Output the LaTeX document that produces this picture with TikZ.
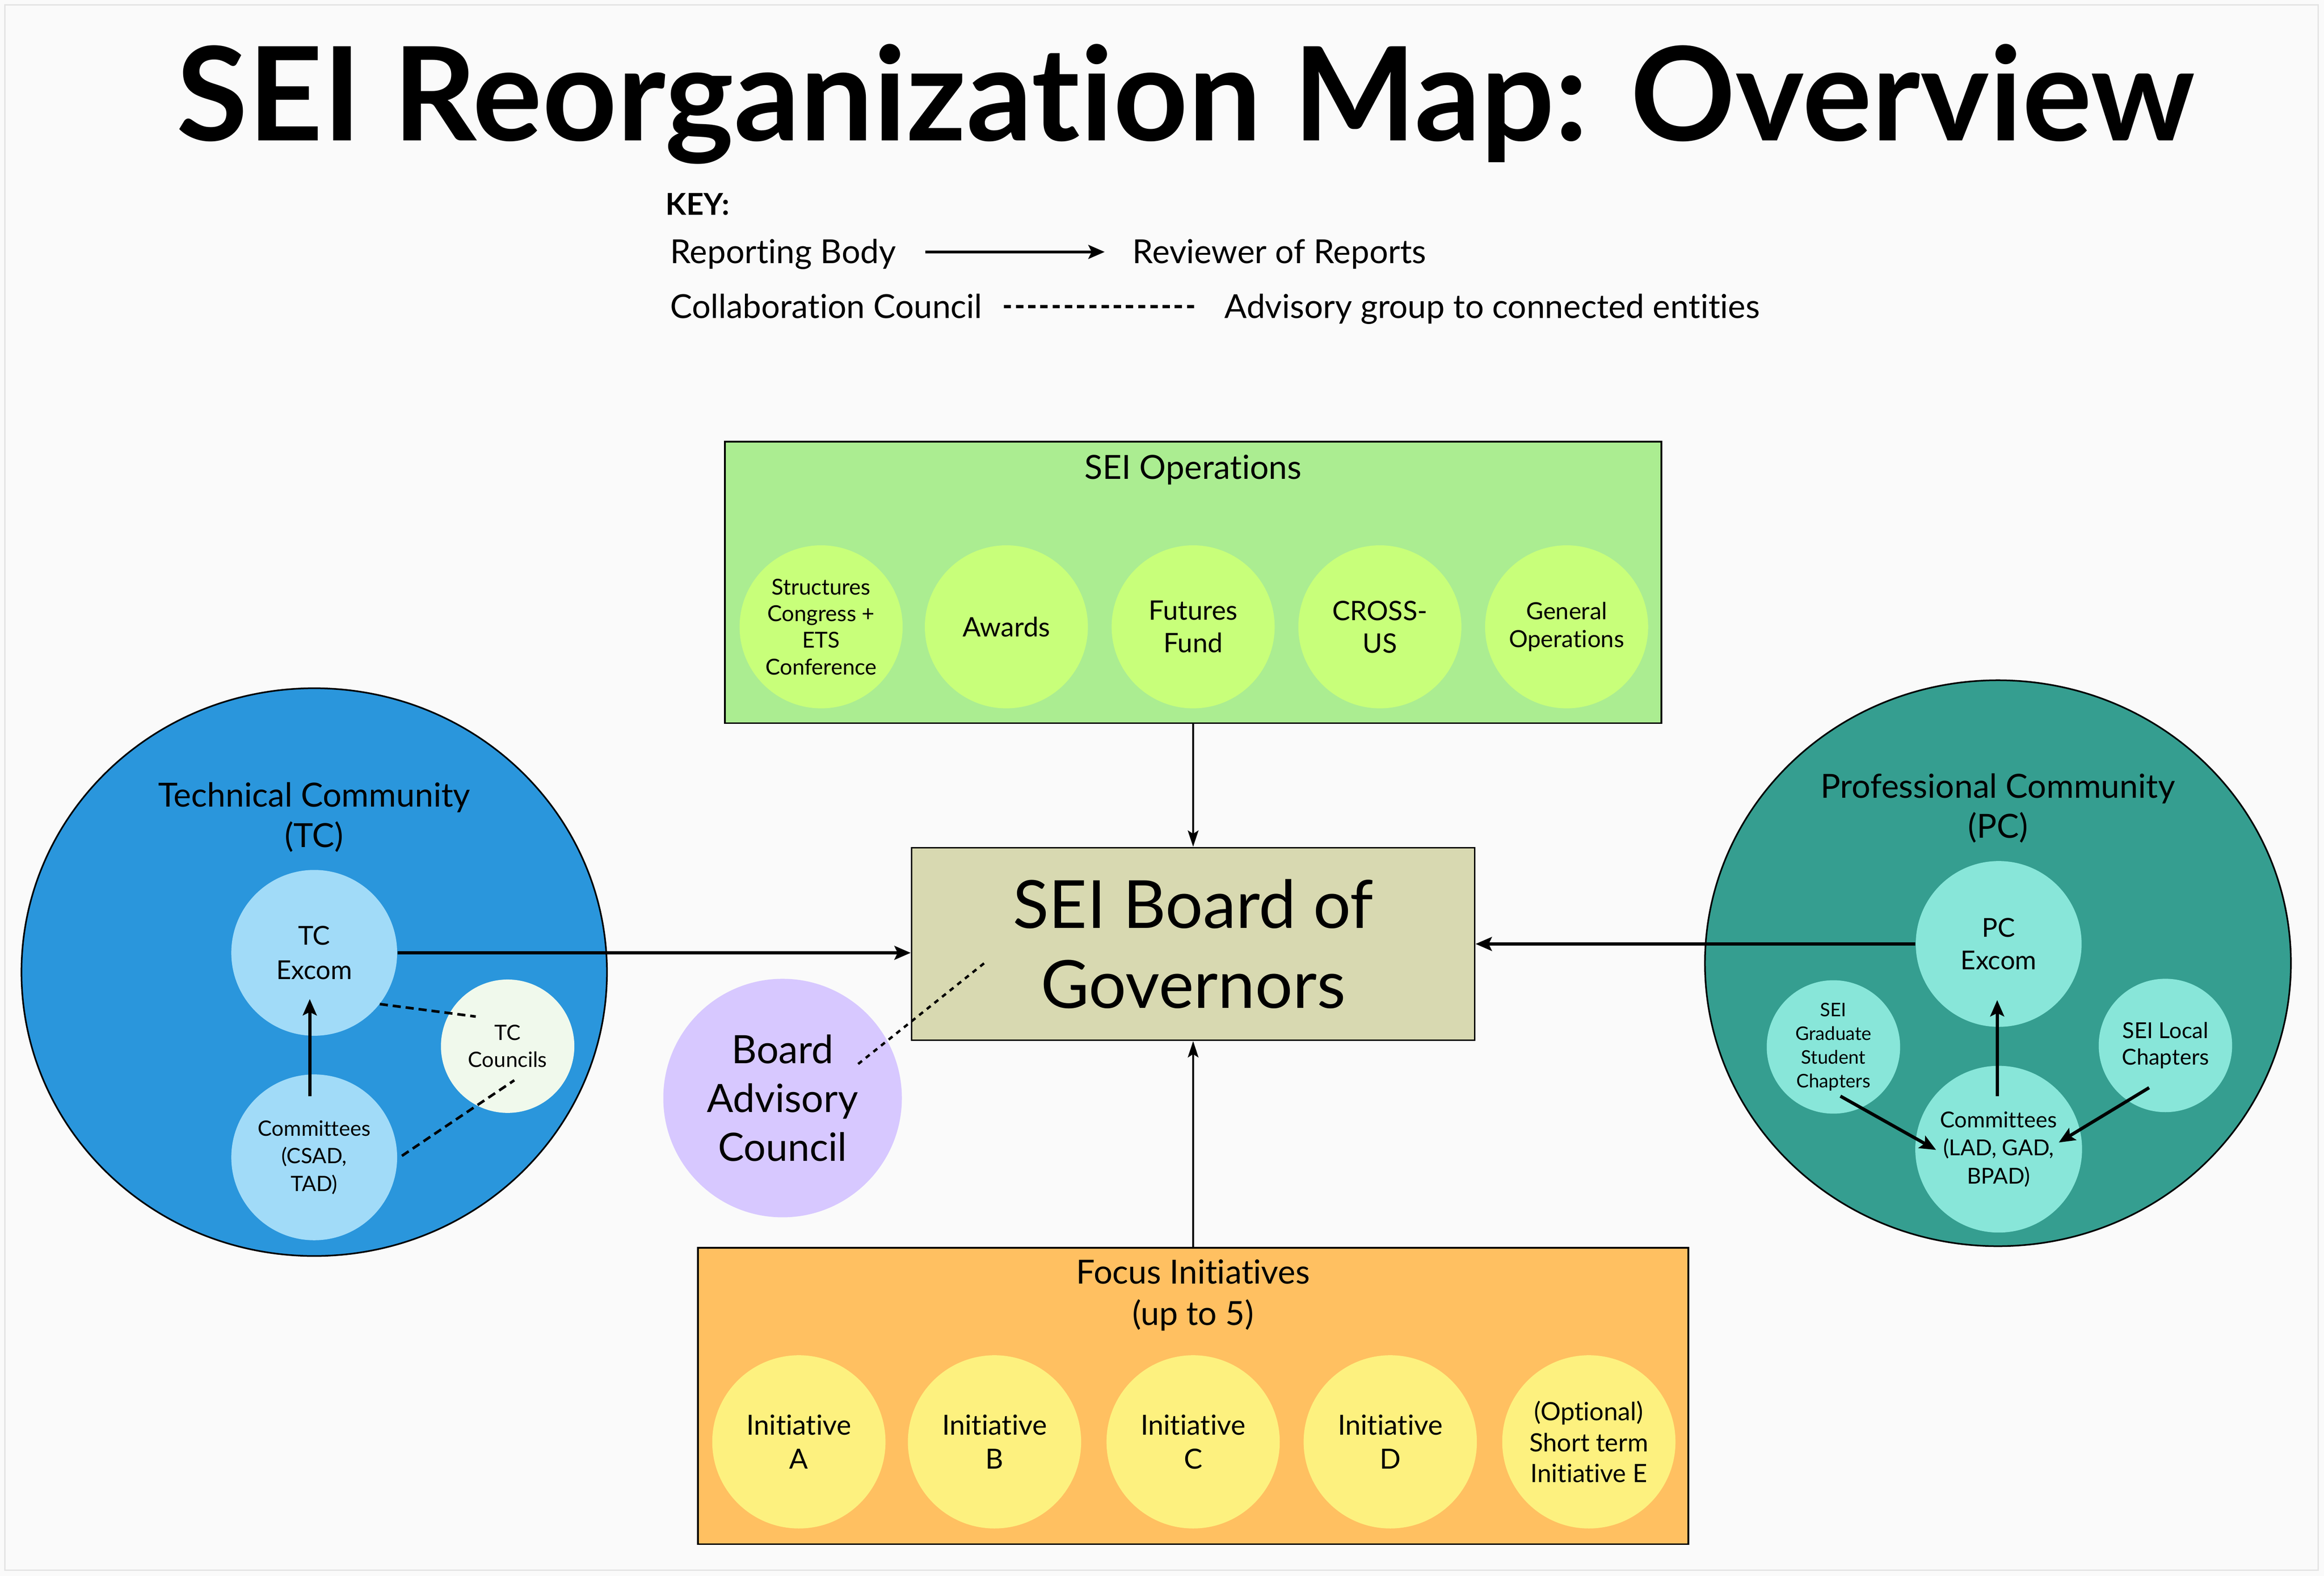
\documentclass[tikz,border=0pt]{standalone}
\usepackage{fontspec}
\setmainfont{Lato}[Ligatures=NoCommon]
\usetikzlibrary{shapes.geometric,arrows.meta}
\definecolor{bg}{HTML}{FAFAFA}
\definecolor{frameline}{HTML}{E4E4E4}
\definecolor{opsgreen}{HTML}{ABED91}
\definecolor{opslime}{HTML}{C8FF7A}
\definecolor{boardkhaki}{HTML}{D8D9B1}
\definecolor{bacviolet}{HTML}{D7C8FF}
\definecolor{focusorange}{HTML}{FFC061}
\definecolor{inityellow}{HTML}{FDF17F}
\definecolor{tcblue}{HTML}{2A96DC}
\definecolor{tclight}{HTML}{A1DBF8}
\definecolor{councilpale}{HTML}{F0F9EC}
\definecolor{pcteal}{HTML}{359E90}
\definecolor{pclight}{HTML}{88E6D9}
\newcommand\setfs[2]{\fontsize{#1}{#2}\selectfont}

\begin{document}
\begin{tikzpicture}[x=0.032cm,y=-0.032cm,
  lbl/.style={inner sep=0,align=center},
  keytext/.style={inner sep=0,text height=17pt,text depth=3pt,font=\setfs{20.3}{24}},
  box/.style={draw,line width=1pt,inner sep=0},
  blob/.style={circle,inner sep=0,align=center},
  rep/.style={-{Stealth[length=10pt,width=8.5pt,inset=2pt]},line width=1.8pt},
  repthin/.style={-{Stealth[length=10pt,width=6.5pt,inset=2pt]},line width=1.4pt},
  collab/.style={line width=1.6pt,dash pattern=on 5pt off 3pt},
  keydot/.style={line width=1.9pt,dash pattern=on 4.5pt off 3pt},
  bacdot/.style={line width=1.5pt,dash pattern=on 3pt off 3pt}]
  \useasboundingbox (0,0) rectangle (1568,1063.5);
  \fill[bg] (0,0) rectangle (1568,1063.5);
  \draw[frameline,line width=0.8pt] (3.4,3.4) rectangle (1564,1059.5);

  \node[lbl,anchor=base,font=\setfs{80}{92}\bfseries] (title) at (800,95) {SEI Reorganization Map: Overview};

  \node[lbl,anchor=base west,font=\setfs{18.5}{22}\bfseries] (key) at (449,145) {KEY:};
  \node[keytext,anchor=west] (kbody) at (452,170) {Reporting Body};
  \node[keytext,anchor=west] (kreview) at (764,170) {Reviewer of Reports};
  \node[keytext,anchor=west] (kcouncil) at (452,207) {Collaboration Council};
  \node[keytext,anchor=west] (kadvisory) at (826,207) {Advisory group to connected entities};
  \draw[rep,shorten <=18pt,shorten >=17pt] (kbody) -- (kreview);
  \draw[keydot,shorten <=13pt,shorten >=17pt] (kcouncil) -- (kadvisory);

  \node[box,fill=opsgreen,minimum width=20.22cm,minimum height=6.08cm] (ops) at (805,393) {};
  \node[lbl,font=\setfs{20.4}{24}] (opstitle) at (805,317) {SEI Operations};
  \node[blob,fill=opslime,minimum size=3.52cm,font=\setfs{13.5}{16.4}] (congress) at (554,423) {Structures\\Congress +\\ETS\\Conference};
  \node[blob,fill=opslime,minimum size=3.52cm,font=\setfs{16.5}{20}] (awards) at (679,423) {Awards};
  \node[blob,fill=opslime,minimum size=3.52cm,font=\setfs{16.5}{20}] (futures) at (805,423) {Futures\\Fund};
  \node[blob,fill=opslime,minimum size=3.52cm,font=\setfs{16.5}{20}] (cross) at (931,423) {CROSS-\\US};
  \node[blob,fill=opslime,minimum size=3.52cm,font=\setfs{14.5}{17.3}] (general) at (1057,423) {General\\Operations};

  \node[box,fill=boardkhaki,minimum width=12.16cm,minimum height=4.16cm,align=center,font=\setfs{40.8}{49}] (board) at (805,637) {SEI Board of\\Governors};
  \node[blob,fill=bacviolet,minimum size=5.15cm,font=\setfs{24}{30}] (bac) at (528,741) {Board\\Advisory\\Council};

  \node[box,fill=focusorange,minimum width=21.38cm,minimum height=6.4cm] (focus) at (805,942) {};
  \node[lbl,font=\setfs{20.4}{25.5}] (focustitle) at (805,874) {Focus Initiatives\\(up to 5)};
  \node[blob,fill=inityellow,minimum size=3.74cm,font=\setfs{17}{21}] (inita) at (539,973) {Initiative\\A};
  \node[blob,fill=inityellow,minimum size=3.74cm,font=\setfs{17}{21}] (initb) at (671,973) {Initiative\\B};
  \node[blob,fill=inityellow,minimum size=3.74cm,font=\setfs{17}{21}] (initc) at (805,973) {Initiative\\C};
  \node[blob,fill=inityellow,minimum size=3.74cm,font=\setfs{17}{21}] (initd) at (938,973) {Initiative\\D};
  \node[blob,fill=inityellow,minimum size=3.74cm,font=\setfs{15.5}{19}] (inite) at (1072,973) {(Optional)\\Short term\\Initiative E};

  \node[ellipse,draw,line width=1pt,fill=tcblue,minimum width=12.64cm,minimum height=12.26cm] (tc) at (212,656) {};
  \node[lbl,font=\setfs{20.4}{24.6}] (tctitle) at (212,551.5) {Technical Community\\(TC)};
  \node[blob,fill=tclight,minimum size=3.58cm,font=\setfs{16}{21}] (tcexcom) at (212,643) {TC\\Excom};
  \node[blob,fill=tclight,minimum size=3.58cm,font=\setfs{13}{17}] (tccomm) at (212,781) {Committees\\(CSAD,\\TAD)};
  \node[blob,fill=councilpale,minimum size=2.88cm,font=\setfs{13}{16.4}] (tccouncils) at (342.5,706) {TC\\Councils};
  \draw[rep,line width=2pt] ([shift={(-3,15)}]tccomm.north) -- ([shift={(-3,-25)}]tcexcom.south);
  \draw[collab] (tcexcom.-38) -- ([shift={(-21.5,-20)}]tccouncils.center);
  \draw[collab] ([shift={(3,-1)}]tccomm.east) -- ([shift={(4.5,23)}]tccouncils.center);

  \node[ellipse,draw,line width=1pt,fill=pcteal,minimum width=12.65cm,minimum height=12.22cm] (pc) at (1348,650) {};
  \node[lbl,font=\setfs{20.4}{24.6}] (pctitle) at (1348,545.5) {Professional Community\\(PC)};
  \node[blob,fill=pclight,minimum size=3.58cm,font=\setfs{16}{20}] (pcexcom) at (1348.5,637) {PC\\Excom};
  \node[blob,fill=pclight,minimum size=3.6cm,font=\setfs{13.5}{17.3}] (pccomm) at (1348.5,775.5) {Committees\\(LAD, GAD,\\BPAD)};
  \node[blob,fill=pclight,minimum size=2.88cm,font=\setfs{11.5}{14.6}] (grad) at (1237,706.5) {SEI\\Graduate\\Student\\Chapters};
  \node[blob,fill=pclight,minimum size=2.88cm,font=\setfs{13.5}{16.4}] (local) at (1461,705.5) {SEI Local\\Chapters};
  \draw[rep,line width=2pt] ([shift={(-1,20.7)}]pccomm.north) -- ([shift={(-1,-18.3)}]pcexcom.south);
  \draw[rep,line width=2pt] ([shift={(4.7,33.2)}]grad.center) -- ([shift={(-42.2,0.5)}]pccomm.center);
  \draw[rep,line width=2pt] ([shift={(-11,28.5)}]local.center) -- ([shift={(40.5,-4.5)}]pccomm.center);

  \draw[repthin] (ops.south) -- (board.north);
  \draw[repthin] (focus.north) -- (board.south);
  \draw[rep] (tcexcom.east) -- (board.west |- tcexcom.east);
  \draw[rep] (pcexcom.west) -- (board.east |- pcexcom.west);
  \draw[bacdot] ([shift={(51,-23)}]bac.center) -- ([shift={(-141,13)}]board.center);
\end{tikzpicture}
\end{document}
